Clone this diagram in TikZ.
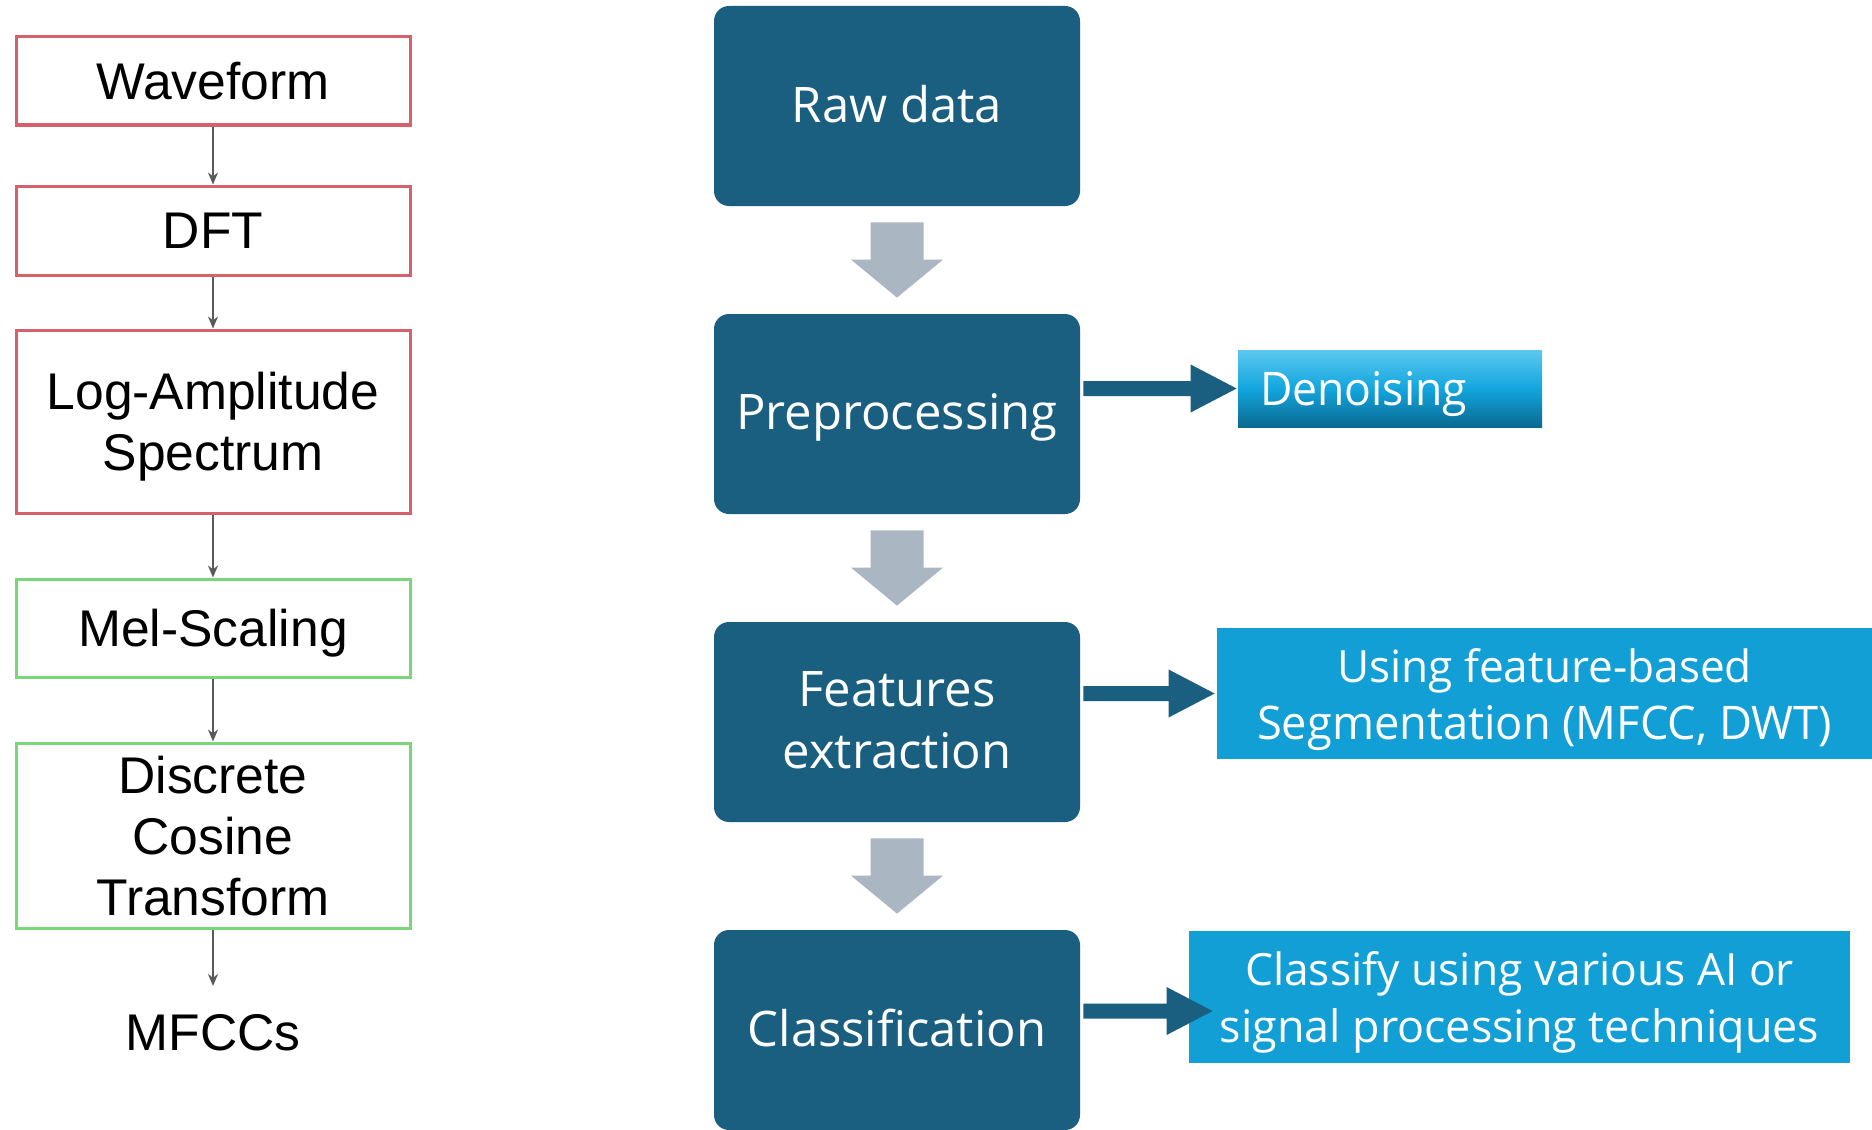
\documentclass[tikz,border=0pt]{standalone}
\usepackage{fontspec}
\usepackage{graphicx}
\setmainfont{Liberation Sans}
\newfontfamily\osans{Open Sans}
\usetikzlibrary{calc,arrows.meta}
\definecolor{mainblue}{RGB}{26,95,128}
\definecolor{grayarr}{RGB}{170,182,194}
\definecolor{sideblue}{RGB}{18,159,214}
\definecolor{dntop}{RGB}{92,200,240}
\definecolor{dnmid}{RGB}{18,166,222}
\definecolor{dnbot}{RGB}{10,105,145}
\definecolor{redline}{RGB}{214,96,108}
\definecolor{greenline}{RGB}{122,214,122}
\definecolor{darkarr}{RGB}{90,90,90}
\newcommand{\grayblock}[2]{%
  \fill[grayarr] ($(#1.south)+(-26.5,16)$) -- ($(#1.south)+(26.5,16)$) -- ($(#2.north)+(26.5,-54)$) -- ($(#2.north)+(46,-54)$) -- ($(#2.north)+(0,-16)$) -- ($(#2.north)+(-46,-54)$) -- ($(#2.north)+(-26.5,-54)$) -- cycle;}
\newcommand{\blueblock}[2]{%
  \fill[mainblue] ($(#1)+(0,-7.5)$) -- ($(#2)+(-46,-7.5)$) -- ($(#2)+(-46,-24)$) -- (#2) -- ($(#2)+(-46,24)$) -- ($(#2)+(-46,7.5)$) -- ($(#1)+(0,7.5)$) -- cycle;}
\begin{document}
\begin{tikzpicture}[x=0.5pt,y=-0.5pt,
  leftbox/.style={draw, line width=1.5pt, minimum width=197pt, inner sep=0pt, align=center,
    text depth=0pt, font=\fontsize{25.8pt}{30.5pt}\selectfont, fill=white},
  redbox/.style={leftbox, draw=redline},
  greenbox/.style={leftbox, draw=greenline},
  thinarrow/.style={draw=darkarr, line width=1pt, -{Stealth[length=6pt,width=5pt]}},
  mainbox/.style={fill=mainblue, rounded corners=7.5pt, minimum width=183pt, minimum height=100pt,
    inner sep=0pt, text=white, align=center, text depth=2pt, font=\osans\fontsize{24.5pt}{31pt}\selectfont},
  sidebox/.style={fill=sideblue, inner sep=0pt, text=white, align=center, text depth=0pt,
    font=\osans\fontsize{22pt}{28.5pt}\selectfont},
  denbox/.style={top color=dntop, bottom color=dnbot, middle color=dnmid, inner ysep=0pt, inner xsep=11pt,
    text width=130pt, align=left, text depth=0pt, minimum height=38.5pt, text=white, font=\osans\fontsize{22pt}{28.5pt}\selectfont}
]
\useasboundingbox (0,0) rectangle (1872,1129);
\fill[white] (0,0) rectangle (1872,1129);

% left column
\node[redbox, minimum height=44pt] (wav) at (213,81) {Waveform};
\node[redbox, minimum height=44.5pt] (dft) at (213,230.5) {DFT};
\node[redbox, minimum height=91.5pt] (lap) at (213,421.5) {Log-Amplitude\\Spectrum};
\node[greenbox, minimum height=49pt] (mel) at (213,628) {Mel-Scaling};
\node[greenbox, minimum height=92.5pt] (dct) at (213,835.5) {Discrete\\Cosine\\Transform};
\node[font=\fontsize{25.8pt}{30.5pt}\selectfont, inner sep=0pt] (mfcc) at (213,1033) {MFCCs};
\coordinate (mfcctop) at (213,986);
\draw[thinarrow] (wav.south) -- (dft.north);
\draw[thinarrow] (dft.south) -- (lap.north);
\draw[thinarrow] (lap.south) -- (mel.north);
\draw[thinarrow] (mel.south) -- (dct.north);
\draw[thinarrow] (dct.south) -- (mfcctop);

% main column
\node[mainbox] (raw) at (897,106) {Raw data};
\node[mainbox] (prep) at (897,414) {Preprocessing};
\node[mainbox] (feat) at (897,722) {Features\\extraction};
\node[mainbox] (cls) at (897,1030) {Classification};
\grayblock{raw}{prep}
\grayblock{prep}{feat}
\grayblock{feat}{cls}

% side boxes
\node[denbox] (den) at (1390,388.5) {\resizebox{103.5pt}{17pt}{Denoising}};
\node[sidebox, minimum width=327.5pt, minimum height=65.5pt] (use) at (1544.5,693.5)
  {\resizebox{207.5pt}{17pt}{Using feature-based}\\\resizebox{287.5pt}{17pt}{Segmentation (MFCC, DWT)}};
\node[sidebox, minimum width=330.5pt, minimum height=66pt] (clsf) at (1519.5,997)
  {\resizebox{274.5pt}{17pt}{Classify using various AI or}\\\resizebox{299.5pt}{17pt}{signal processing techniques}};

% blue block arrows
\coordinate (a1s) at ($(prep.east |- den.west)+(3,0)$);
\coordinate (a1t) at ($(den.west)+(-1,0)$);
\blueblock{a1s}{a1t}
\coordinate (a2t) at ($(use.west)+(-2,0)$);
\coordinate (a2s) at ($(feat.east |- a2t)+(3,0)$);
\blueblock{a2s}{a2t}
\coordinate (a3t) at ($(clsf.west)+(24,14)$);
\coordinate (a3s) at ($(cls.east |- a3t)+(3,0)$);
\blueblock{a3s}{a3t}
\end{tikzpicture}
\end{document}
